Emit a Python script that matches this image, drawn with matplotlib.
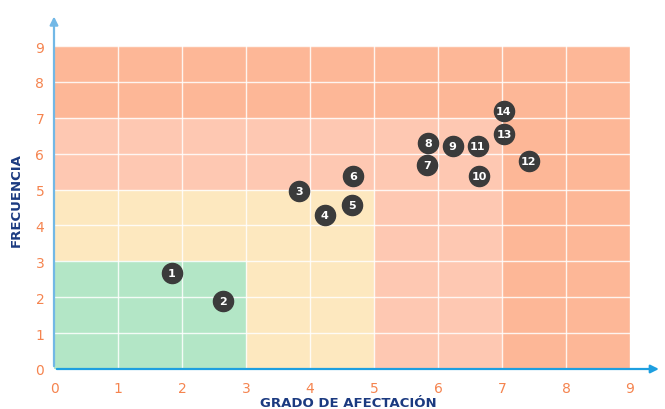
# risk matrix: frecuencia vs grado de afectacion
import matplotlib
matplotlib.use('Agg')
import matplotlib.pyplot as plt
from matplotlib.patches import Rectangle

# data
labels = ['1', '2', '3', '4', '5', '6', '7', '8', '9', '10', '11', '12', '13', '14']
afectacion = [1.84, 2.64, 3.83, 4.23, 4.66, 4.67, 5.83, 5.84, 6.23, 6.64, 6.62, 7.42, 7.03, 7.03]
frecuencia = [2.67, 1.89, 4.97, 4.29, 4.57, 5.38, 5.68, 6.30, 6.20, 5.38, 6.21, 5.79, 6.55, 7.19]
ticks = list(range(10))

# zones (drawn from largest to smallest): (x max, y max, colour)
zones = [(9, 9, '#fdb797'), (7, 7, '#fec8b2'), (5, 5, '#fde8bf'), (3, 3, '#b3e6c6')]

fig = plt.figure(figsize=(6.65, 4.1), dpi=100)
ax = fig.add_axes([54/665, 40/410, 576/665, 323/410])
ax.set_xlim(0, 9)
ax.set_ylim(0, 9)

for xm, ym, col in zones:
    ax.add_patch(Rectangle((0, 0), xm, ym, facecolor=col, edgecolor='none', zorder=0))

# white grid
for t in ticks[1:]:
    ax.axvline(t, color='white', lw=1.0, alpha=0.85, zorder=1)
    ax.axhline(t, color='white', lw=1.0, alpha=0.85, zorder=1)

for s in ax.spines.values():
    s.set_visible(False)

ax.set_xticks(ticks)
ax.set_yticks(ticks)
ax.tick_params(length=0, labelcolor='#f5844f', labelsize=10, pad=9)
ax.tick_params(axis='y', pad=7)

# axes with arrows
ax.annotate('', xy=(1.055, 0), xytext=(0, 0), xycoords='axes fraction',
            arrowprops=dict(arrowstyle='-|>', color='#1e9fe0', lw=1.6, mutation_scale=12),
            annotation_clip=False, zorder=5)
ax.annotate('', xy=(0, 1.1), xytext=(0, 0), xycoords='axes fraction',
            arrowprops=dict(arrowstyle='-|>', color='#72b8e6', lw=1.6, mutation_scale=12),
            annotation_clip=False, zorder=5)

ax.scatter(afectacion, frecuencia, s=210, color='#3b3b3b', zorder=6, clip_on=False)
for lab, x, y in zip(labels, afectacion, frecuencia):
    ax.text(x, y, lab, color='white', fontsize=8, fontweight='bold',
            ha='center', va='center', zorder=7)

fig.text(348/665, 1 - 404/410, 'GRADO DE AFECTACIÓN', color='#1b3a80', fontsize=9.5,
         fontweight='heavy', ha='center', va='center')
fig.text(16/665, 1 - 200/410, 'FRECUENCIA', color='#1b3a80', fontsize=9.5,
         fontweight='heavy', ha='center', va='center', rotation=90)

fig.savefig('out.png', dpi=100)
